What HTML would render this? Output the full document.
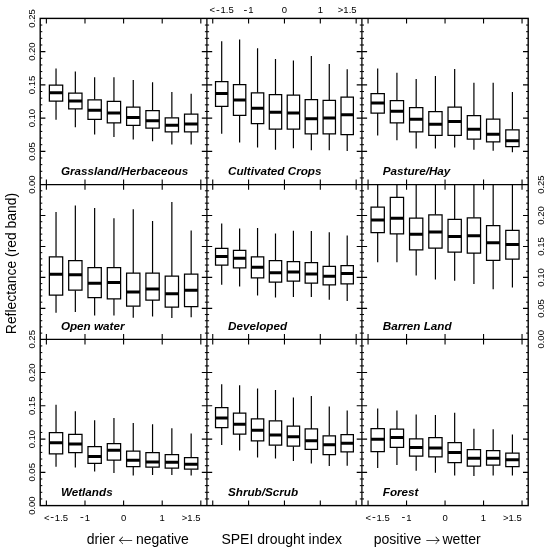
<!DOCTYPE html>
<html><head><meta charset="utf-8"><title>Reflectance vs SPEI drought index</title>
<style>html,body{margin:0;padding:0;background:#fff}body{width:549px;height:550px;overflow:hidden}</style>
</head><body>
<svg width="549" height="550" viewBox="0 0 549 550" style="display:block">
<rect width="549" height="550" fill="#fff"/>
<defs>
<clipPath id="c00"><rect x="40.2" y="18.4" width="166.8" height="166.2"/></clipPath>
<clipPath id="c01"><rect x="207.0" y="18.4" width="154.9" height="166.2"/></clipPath>
<clipPath id="c02"><rect x="361.9" y="18.4" width="166.3" height="166.2"/></clipPath>
<clipPath id="c10"><rect x="40.2" y="184.6" width="166.8" height="154.7"/></clipPath>
<clipPath id="c11"><rect x="207.0" y="184.6" width="154.9" height="154.7"/></clipPath>
<clipPath id="c12"><rect x="361.9" y="184.6" width="166.3" height="154.7"/></clipPath>
<clipPath id="c20"><rect x="40.2" y="339.3" width="166.8" height="166.3"/></clipPath>
<clipPath id="c21"><rect x="207.0" y="339.3" width="154.9" height="166.3"/></clipPath>
<clipPath id="c22"><rect x="361.9" y="339.3" width="166.3" height="166.3"/></clipPath>
</defs>
<g clip-path="url(#c00)" stroke="#000" fill="none">
<path d="M56.03 68.5V85.1M56.03 101.0V119.8M75.34 71.5V93.1M75.34 108.9V127.2M94.64 77.2V99.8M94.64 119.3V134.6M113.95 77.2V101.3M113.95 122.8V137.0M133.25 80.1V107.1M133.25 125.3V139.6M152.56 82.2V110.6M152.56 128.1V141.2M171.86 92.0V117.8M171.86 131.9V144.5M191.17 93.7V114.2M191.17 131.9V144.5" stroke-width="1.2"/>
<path d="M49.37 85.1H62.69V101.0H49.37ZM68.68 93.1H82.00V108.9H68.68ZM87.98 99.8H101.30V119.3H87.98ZM107.29 101.3H120.61V122.8H107.29ZM126.59 107.1H139.91V125.3H126.59ZM145.90 110.6H159.22V128.1H145.90ZM165.20 117.8H178.52V131.9H165.20ZM184.51 114.2H197.83V131.9H184.51Z" stroke-width="1.25" fill="#fff"/>
<path d="M49.37 92.8H62.69M68.68 101.0H82.00M87.98 110.2H101.30M107.29 113.0H120.61M126.59 117.5H139.91M145.90 120.7H159.22M165.20 125.3H178.52M184.51 124.0H197.83" stroke-width="3.0"/>
</g>
<g clip-path="url(#c01)" stroke="#000" fill="none">
<path d="M221.70 41.3V81.5M221.70 106.3V133.7M239.63 39.5V84.6M239.63 115.4V142.5M257.56 48.2V92.8M257.56 123.7V147.4M275.49 59.1V94.7M275.49 129.2V149.8M293.41 60.6V95.2M293.41 129.2V148.3M311.34 56.0V99.6M311.34 133.8V150.2M329.27 64.1V100.3M329.27 133.8V150.2M347.20 69.2V97.2M347.20 134.7V150.9" stroke-width="1.2"/>
<path d="M215.52 81.5H227.89V106.3H215.52ZM233.44 84.6H245.81V115.4H233.44ZM251.37 92.8H263.74V123.7H251.37ZM269.30 94.7H281.67V129.2H269.30ZM287.23 95.2H299.60V129.2H287.23ZM305.16 99.6H317.53V133.8H305.16ZM323.09 100.3H335.46V133.8H323.09ZM341.01 97.2H353.38V134.7H341.01Z" stroke-width="1.25" fill="#fff"/>
<path d="M215.52 93.4H227.89M233.44 100.1H245.81M251.37 108.3H263.74M269.30 112.3H281.67M287.23 112.9H299.60M305.16 118.7H317.53M323.09 118.1H335.46M341.01 114.7H353.38" stroke-width="3.0"/>
</g>
<g clip-path="url(#c02)" stroke="#000" fill="none">
<path d="M377.68 68.5V93.6M377.68 113.0V135.4M396.93 72.8V100.5M396.93 122.8V140.3M416.18 78.9V107.5M416.18 131.8V148.5M435.43 76.1V111.6M435.43 135.4V148.5M454.67 69.1V107.1M454.67 135.3V147.4M473.92 82.8V115.6M473.92 139.2V149.8M493.17 82.8V119.2M493.17 141.8V150.8M512.42 92.1V129.8M512.42 146.7V152.3" stroke-width="1.2"/>
<path d="M371.04 93.6H384.32V113.0H371.04ZM390.29 100.5H403.57V122.8H390.29ZM409.54 107.5H422.82V131.8H409.54ZM428.79 111.6H442.07V135.4H428.79ZM448.03 107.1H461.31V135.3H448.03ZM467.28 115.6H480.56V139.2H467.28ZM486.53 119.2H499.81V141.8H486.53ZM505.78 129.8H519.06V146.7H505.78Z" stroke-width="1.25" fill="#fff"/>
<path d="M371.04 103.0H384.32M390.29 111.3H403.57M409.54 119.3H422.82M428.79 124.3H442.07M448.03 121.4H461.31M467.28 129.3H480.56M486.53 134.3H499.81M505.78 140.8H519.06" stroke-width="3.0"/>
</g>
<g clip-path="url(#c10)" stroke="#000" fill="none">
<path d="M56.03 212.0V256.8M56.03 295.1V312.8M75.34 205.5V260.6M75.34 290.2V312.0M94.64 208.0V267.7M94.64 297.5V315.6M113.95 218.3V267.7M113.95 298.9V315.6M133.25 209.3V273.0M133.25 306.2V317.7M152.56 221.1V273.0M152.56 300.0V316.4M171.86 201.9V276.2M171.86 307.0V318.0M191.17 230.4V274.1M191.17 306.6V317.2" stroke-width="1.2"/>
<path d="M49.37 256.8H62.69V295.1H49.37ZM68.68 260.6H82.00V290.2H68.68ZM87.98 267.7H101.30V297.5H87.98ZM107.29 267.7H120.61V298.9H107.29ZM126.59 273.0H139.91V306.2H126.59ZM145.90 273.0H159.22V300.0H145.90ZM165.20 276.2H178.52V307.0H165.20ZM184.51 274.1H197.83V306.6H184.51Z" stroke-width="1.25" fill="#fff"/>
<path d="M49.37 274.3H62.69M68.68 274.7H82.00M87.98 283.3H101.30M107.29 282.5H120.61M126.59 292.0H139.91M145.90 289.0H159.22M165.20 293.8H178.52M184.51 290.2H197.83" stroke-width="3.0"/>
</g>
<g clip-path="url(#c11)" stroke="#000" fill="none">
<path d="M221.70 223.6V248.4M221.70 265.1V284.8M239.63 228.5V250.3M239.63 267.9V286.4M257.56 227.9V256.9M257.56 277.9V295.4M275.49 233.4V260.7M275.49 282.0V297.5M293.41 230.7V261.5M293.41 281.1V297.0M311.34 231.1V262.6M311.34 283.1V297.0M329.27 232.3V266.4M329.27 284.8V299.8M347.20 235.6V265.6M347.20 283.9V301.1" stroke-width="1.2"/>
<path d="M215.52 248.4H227.89V265.1H215.52ZM233.44 250.3H245.81V267.9H233.44ZM251.37 256.9H263.74V277.9H251.37ZM269.30 260.7H281.67V282.0H269.30ZM287.23 261.5H299.60V281.1H287.23ZM305.16 262.6H317.53V283.1H305.16ZM323.09 266.4H335.46V284.8H323.09ZM341.01 265.6H353.38V283.9H341.01Z" stroke-width="1.25" fill="#fff"/>
<path d="M215.52 256.4H227.89M233.44 258.2H245.81M251.37 267.2H263.74M269.30 272.8H281.67M287.23 272.1H299.60M305.16 274.1H317.53M323.09 276.2H335.46M341.01 273.6H353.38" stroke-width="3.0"/>
</g>
<g clip-path="url(#c12)" stroke="#000" fill="none">
<path d="M377.68 180.0V207.1M377.68 232.5V262.2M396.93 180.0V197.3M396.93 233.9V262.2M416.18 180.0V218.1M416.18 249.8V275.4M435.43 180.0V214.8M435.43 248.1V279.5M454.67 180.0V219.4M454.67 252.0V280.8M473.92 180.0V217.8M473.92 253.0V284.1M493.17 180.0V225.5M493.17 260.4V289.3M512.42 180.0V230.4M512.42 259.1V287.4" stroke-width="1.2"/>
<path d="M371.04 207.1H384.32V232.5H371.04ZM390.29 197.3H403.57V233.9H390.29ZM409.54 218.1H422.82V249.8H409.54ZM428.79 214.8H442.07V248.1H428.79ZM448.03 219.4H461.31V252.0H448.03ZM467.28 217.8H480.56V253.0H467.28ZM486.53 225.5H499.81V260.4H486.53ZM505.78 230.4H519.06V259.1H505.78Z" stroke-width="1.25" fill="#fff"/>
<path d="M371.04 219.9H384.32M390.29 218.3H403.57M409.54 234.2H422.82M428.79 232.0H442.07M448.03 236.4H461.31M467.28 235.8H480.56M486.53 242.7H499.81M505.78 244.5H519.06" stroke-width="3.0"/>
</g>
<g clip-path="url(#c20)" stroke="#000" fill="none">
<path d="M56.03 404.8V432.6M56.03 453.9V466.7M75.34 411.3V434.3M75.34 452.6V467.4M94.64 420.3V446.6M94.64 463.3V471.5M113.95 417.9V443.6M113.95 460.0V473.1M133.25 423.0V451.1M133.25 466.5V475.4M152.56 424.3V452.5M152.56 467.2V475.1M171.86 428.2V454.6M171.86 468.0V475.1M191.17 433.6V457.7M191.17 469.2V475.4" stroke-width="1.2"/>
<path d="M49.37 432.6H62.69V453.9H49.37ZM68.68 434.3H82.00V452.6H68.68ZM87.98 446.6H101.30V463.3H87.98ZM107.29 443.6H120.61V460.0H107.29ZM126.59 451.1H139.91V466.5H126.59ZM145.90 452.5H159.22V467.2H145.90ZM165.20 454.6H178.52V468.0H165.20ZM184.51 457.7H197.83V469.2H184.51Z" stroke-width="1.25" fill="#fff"/>
<path d="M49.37 442.8H62.69M68.68 444.1H82.00M87.98 456.4H101.30M107.29 450.2H120.61M126.59 460.3H139.91M145.90 462.0H159.22M165.20 462.3H178.52M184.51 464.3H197.83" stroke-width="3.0"/>
</g>
<g clip-path="url(#c21)" stroke="#000" fill="none">
<path d="M221.70 384.3V407.5M221.70 427.5V445.0M239.63 385.2V413.2M239.63 434.0V450.4M257.56 388.6V418.9M257.56 440.9V457.5M275.49 390.1V420.8M275.49 445.2V458.6M293.41 397.5V426.0M293.41 446.2V461.1M311.34 396.1V428.9M311.34 449.4V463.4M329.27 406.6V435.8M329.27 454.7V466.1M347.20 410.4V434.5M347.20 451.9V465.8" stroke-width="1.2"/>
<path d="M215.52 407.5H227.89V427.5H215.52ZM233.44 413.2H245.81V434.0H233.44ZM251.37 418.9H263.74V440.9H251.37ZM269.30 420.8H281.67V445.2H269.30ZM287.23 426.0H299.60V446.2H287.23ZM305.16 428.9H317.53V449.4H305.16ZM323.09 435.8H335.46V454.7H323.09ZM341.01 434.5H353.38V451.9H341.01Z" stroke-width="1.25" fill="#fff"/>
<path d="M215.52 418.0H227.89M233.44 424.2H245.81M251.37 430.2H263.74M269.30 435.1H281.67M287.23 436.7H299.60M305.16 440.7H317.53M323.09 444.8H335.46M341.01 443.2H353.38" stroke-width="3.0"/>
</g>
<g clip-path="url(#c22)" stroke="#000" fill="none">
<path d="M377.68 408.4V428.5M377.68 451.5V467.9M396.93 410.5V429.0M396.93 447.4V464.9M416.18 414.6V438.9M416.18 456.1V470.8M435.43 414.9V437.5M435.43 456.9V472.8M454.67 412.8V442.7M454.67 462.7V475.4M473.92 428.7V449.5M473.92 466.1V475.9M493.17 429.2V450.5M493.17 465.2V475.4M512.42 434.4V453.0M512.42 466.7V475.4" stroke-width="1.2"/>
<path d="M371.04 428.5H384.32V451.5H371.04ZM390.29 429.0H403.57V447.4H390.29ZM409.54 438.9H422.82V456.1H409.54ZM428.79 437.5H442.07V456.9H428.79ZM448.03 442.7H461.31V462.7H448.03ZM467.28 449.5H480.56V466.1H467.28ZM486.53 450.5H499.81V465.2H486.53ZM505.78 453.0H519.06V466.7H505.78Z" stroke-width="1.25" fill="#fff"/>
<path d="M371.04 439.2H384.32M390.29 437.5H403.57M409.54 447.4H422.82M428.79 447.9H442.07M448.03 452.4H461.31M467.28 458.2H480.56M486.53 458.2H499.81M505.78 459.8H519.06" stroke-width="3.0"/>
</g>
<path d="M46.38 18.4v5.2M46.38 184.6v-5.2M84.99 18.4v5.2M84.99 184.6v-5.2M123.60 18.4v5.2M123.60 184.6v-5.2M162.21 18.4v5.2M162.21 184.6v-5.2M200.82 18.4v5.2M200.82 184.6v-5.2M40.2 151.36h5.2M207.0 151.36h-5.2M40.2 118.12h5.2M207.0 118.12h-5.2M40.2 84.88h5.2M207.0 84.88h-5.2M40.2 51.64h5.2M207.0 51.64h-5.2M212.74 18.4v5.2M212.74 184.6v-5.2M248.59 18.4v5.2M248.59 184.6v-5.2M284.45 18.4v5.2M284.45 184.6v-5.2M320.31 18.4v5.2M320.31 184.6v-5.2M356.16 18.4v5.2M356.16 184.6v-5.2M207.0 151.36h5.2M361.9 151.36h-5.2M207.0 118.12h5.2M361.9 118.12h-5.2M207.0 84.88h5.2M361.9 84.88h-5.2M207.0 51.64h5.2M361.9 51.64h-5.2M368.06 18.4v5.2M368.06 184.6v-5.2M406.55 18.4v5.2M406.55 184.6v-5.2M445.05 18.4v5.2M445.05 184.6v-5.2M483.55 18.4v5.2M483.55 184.6v-5.2M522.04 18.4v5.2M522.04 184.6v-5.2M361.9 151.36h5.2M528.2 151.36h-5.2M361.9 118.12h5.2M528.2 118.12h-5.2M361.9 84.88h5.2M528.2 84.88h-5.2M361.9 51.64h5.2M528.2 51.64h-5.2M46.38 184.6v5.2M46.38 339.3v-5.2M84.99 184.6v5.2M84.99 339.3v-5.2M123.60 184.6v5.2M123.60 339.3v-5.2M162.21 184.6v5.2M162.21 339.3v-5.2M200.82 184.6v5.2M200.82 339.3v-5.2M40.2 308.36h5.2M207.0 308.36h-5.2M40.2 277.42h5.2M207.0 277.42h-5.2M40.2 246.48h5.2M207.0 246.48h-5.2M40.2 215.54h5.2M207.0 215.54h-5.2M212.74 184.6v5.2M212.74 339.3v-5.2M248.59 184.6v5.2M248.59 339.3v-5.2M284.45 184.6v5.2M284.45 339.3v-5.2M320.31 184.6v5.2M320.31 339.3v-5.2M356.16 184.6v5.2M356.16 339.3v-5.2M207.0 308.36h5.2M361.9 308.36h-5.2M207.0 277.42h5.2M361.9 277.42h-5.2M207.0 246.48h5.2M361.9 246.48h-5.2M207.0 215.54h5.2M361.9 215.54h-5.2M368.06 184.6v5.2M368.06 339.3v-5.2M406.55 184.6v5.2M406.55 339.3v-5.2M445.05 184.6v5.2M445.05 339.3v-5.2M483.55 184.6v5.2M483.55 339.3v-5.2M522.04 184.6v5.2M522.04 339.3v-5.2M361.9 308.36h5.2M528.2 308.36h-5.2M361.9 277.42h5.2M528.2 277.42h-5.2M361.9 246.48h5.2M528.2 246.48h-5.2M361.9 215.54h5.2M528.2 215.54h-5.2M46.38 339.3v5.2M46.38 505.6v-5.2M84.99 339.3v5.2M84.99 505.6v-5.2M123.60 339.3v5.2M123.60 505.6v-5.2M162.21 339.3v5.2M162.21 505.6v-5.2M200.82 339.3v5.2M200.82 505.6v-5.2M40.2 472.34h5.2M207.0 472.34h-5.2M40.2 439.08h5.2M207.0 439.08h-5.2M40.2 405.82h5.2M207.0 405.82h-5.2M40.2 372.56h5.2M207.0 372.56h-5.2M212.74 339.3v5.2M212.74 505.6v-5.2M248.59 339.3v5.2M248.59 505.6v-5.2M284.45 339.3v5.2M284.45 505.6v-5.2M320.31 339.3v5.2M320.31 505.6v-5.2M356.16 339.3v5.2M356.16 505.6v-5.2M207.0 472.34h5.2M361.9 472.34h-5.2M207.0 439.08h5.2M361.9 439.08h-5.2M207.0 405.82h5.2M361.9 405.82h-5.2M207.0 372.56h5.2M361.9 372.56h-5.2M368.06 339.3v5.2M368.06 505.6v-5.2M406.55 339.3v5.2M406.55 505.6v-5.2M445.05 339.3v5.2M445.05 505.6v-5.2M483.55 339.3v5.2M483.55 505.6v-5.2M522.04 339.3v5.2M522.04 505.6v-5.2M361.9 472.34h5.2M528.2 472.34h-5.2M361.9 439.08h5.2M528.2 439.08h-5.2M361.9 405.82h5.2M528.2 405.82h-5.2M361.9 372.56h5.2M528.2 372.56h-5.2" stroke="#000" stroke-width="1.1" fill="none"/>
<path d="M40.2 177.95h2.1M207.0 177.95h-2.1M40.2 171.30h2.1M207.0 171.30h-2.1M40.2 164.66h2.1M207.0 164.66h-2.1M40.2 158.01h2.1M207.0 158.01h-2.1M40.2 144.71h2.1M207.0 144.71h-2.1M40.2 138.06h2.1M207.0 138.06h-2.1M40.2 131.42h2.1M207.0 131.42h-2.1M40.2 124.77h2.1M207.0 124.77h-2.1M40.2 111.47h2.1M207.0 111.47h-2.1M40.2 104.82h2.1M207.0 104.82h-2.1M40.2 98.18h2.1M207.0 98.18h-2.1M40.2 91.53h2.1M207.0 91.53h-2.1M40.2 78.23h2.1M207.0 78.23h-2.1M40.2 71.58h2.1M207.0 71.58h-2.1M40.2 64.94h2.1M207.0 64.94h-2.1M40.2 58.29h2.1M207.0 58.29h-2.1M40.2 44.99h2.1M207.0 44.99h-2.1M40.2 38.34h2.1M207.0 38.34h-2.1M40.2 31.70h2.1M207.0 31.70h-2.1M40.2 25.05h2.1M207.0 25.05h-2.1M207.0 177.95h2.1M361.9 177.95h-2.1M207.0 171.30h2.1M361.9 171.30h-2.1M207.0 164.66h2.1M361.9 164.66h-2.1M207.0 158.01h2.1M361.9 158.01h-2.1M207.0 144.71h2.1M361.9 144.71h-2.1M207.0 138.06h2.1M361.9 138.06h-2.1M207.0 131.42h2.1M361.9 131.42h-2.1M207.0 124.77h2.1M361.9 124.77h-2.1M207.0 111.47h2.1M361.9 111.47h-2.1M207.0 104.82h2.1M361.9 104.82h-2.1M207.0 98.18h2.1M361.9 98.18h-2.1M207.0 91.53h2.1M361.9 91.53h-2.1M207.0 78.23h2.1M361.9 78.23h-2.1M207.0 71.58h2.1M361.9 71.58h-2.1M207.0 64.94h2.1M361.9 64.94h-2.1M207.0 58.29h2.1M361.9 58.29h-2.1M207.0 44.99h2.1M361.9 44.99h-2.1M207.0 38.34h2.1M361.9 38.34h-2.1M207.0 31.70h2.1M361.9 31.70h-2.1M207.0 25.05h2.1M361.9 25.05h-2.1M361.9 177.95h2.1M528.2 177.95h-2.1M361.9 171.30h2.1M528.2 171.30h-2.1M361.9 164.66h2.1M528.2 164.66h-2.1M361.9 158.01h2.1M528.2 158.01h-2.1M361.9 144.71h2.1M528.2 144.71h-2.1M361.9 138.06h2.1M528.2 138.06h-2.1M361.9 131.42h2.1M528.2 131.42h-2.1M361.9 124.77h2.1M528.2 124.77h-2.1M361.9 111.47h2.1M528.2 111.47h-2.1M361.9 104.82h2.1M528.2 104.82h-2.1M361.9 98.18h2.1M528.2 98.18h-2.1M361.9 91.53h2.1M528.2 91.53h-2.1M361.9 78.23h2.1M528.2 78.23h-2.1M361.9 71.58h2.1M528.2 71.58h-2.1M361.9 64.94h2.1M528.2 64.94h-2.1M361.9 58.29h2.1M528.2 58.29h-2.1M361.9 44.99h2.1M528.2 44.99h-2.1M361.9 38.34h2.1M528.2 38.34h-2.1M361.9 31.70h2.1M528.2 31.70h-2.1M361.9 25.05h2.1M528.2 25.05h-2.1M40.2 333.11h2.1M207.0 333.11h-2.1M40.2 326.92h2.1M207.0 326.92h-2.1M40.2 320.74h2.1M207.0 320.74h-2.1M40.2 314.55h2.1M207.0 314.55h-2.1M40.2 302.17h2.1M207.0 302.17h-2.1M40.2 295.98h2.1M207.0 295.98h-2.1M40.2 289.80h2.1M207.0 289.80h-2.1M40.2 283.61h2.1M207.0 283.61h-2.1M40.2 271.23h2.1M207.0 271.23h-2.1M40.2 265.04h2.1M207.0 265.04h-2.1M40.2 258.86h2.1M207.0 258.86h-2.1M40.2 252.67h2.1M207.0 252.67h-2.1M40.2 240.29h2.1M207.0 240.29h-2.1M40.2 234.10h2.1M207.0 234.10h-2.1M40.2 227.92h2.1M207.0 227.92h-2.1M40.2 221.73h2.1M207.0 221.73h-2.1M40.2 209.35h2.1M207.0 209.35h-2.1M40.2 203.16h2.1M207.0 203.16h-2.1M40.2 196.98h2.1M207.0 196.98h-2.1M40.2 190.79h2.1M207.0 190.79h-2.1M207.0 333.11h2.1M361.9 333.11h-2.1M207.0 326.92h2.1M361.9 326.92h-2.1M207.0 320.74h2.1M361.9 320.74h-2.1M207.0 314.55h2.1M361.9 314.55h-2.1M207.0 302.17h2.1M361.9 302.17h-2.1M207.0 295.98h2.1M361.9 295.98h-2.1M207.0 289.80h2.1M361.9 289.80h-2.1M207.0 283.61h2.1M361.9 283.61h-2.1M207.0 271.23h2.1M361.9 271.23h-2.1M207.0 265.04h2.1M361.9 265.04h-2.1M207.0 258.86h2.1M361.9 258.86h-2.1M207.0 252.67h2.1M361.9 252.67h-2.1M207.0 240.29h2.1M361.9 240.29h-2.1M207.0 234.10h2.1M361.9 234.10h-2.1M207.0 227.92h2.1M361.9 227.92h-2.1M207.0 221.73h2.1M361.9 221.73h-2.1M207.0 209.35h2.1M361.9 209.35h-2.1M207.0 203.16h2.1M361.9 203.16h-2.1M207.0 196.98h2.1M361.9 196.98h-2.1M207.0 190.79h2.1M361.9 190.79h-2.1M361.9 333.11h2.1M528.2 333.11h-2.1M361.9 326.92h2.1M528.2 326.92h-2.1M361.9 320.74h2.1M528.2 320.74h-2.1M361.9 314.55h2.1M528.2 314.55h-2.1M361.9 302.17h2.1M528.2 302.17h-2.1M361.9 295.98h2.1M528.2 295.98h-2.1M361.9 289.80h2.1M528.2 289.80h-2.1M361.9 283.61h2.1M528.2 283.61h-2.1M361.9 271.23h2.1M528.2 271.23h-2.1M361.9 265.04h2.1M528.2 265.04h-2.1M361.9 258.86h2.1M528.2 258.86h-2.1M361.9 252.67h2.1M528.2 252.67h-2.1M361.9 240.29h2.1M528.2 240.29h-2.1M361.9 234.10h2.1M528.2 234.10h-2.1M361.9 227.92h2.1M528.2 227.92h-2.1M361.9 221.73h2.1M528.2 221.73h-2.1M361.9 209.35h2.1M528.2 209.35h-2.1M361.9 203.16h2.1M528.2 203.16h-2.1M361.9 196.98h2.1M528.2 196.98h-2.1M361.9 190.79h2.1M528.2 190.79h-2.1M40.2 498.95h2.1M207.0 498.95h-2.1M40.2 492.30h2.1M207.0 492.30h-2.1M40.2 485.64h2.1M207.0 485.64h-2.1M40.2 478.99h2.1M207.0 478.99h-2.1M40.2 465.69h2.1M207.0 465.69h-2.1M40.2 459.04h2.1M207.0 459.04h-2.1M40.2 452.38h2.1M207.0 452.38h-2.1M40.2 445.73h2.1M207.0 445.73h-2.1M40.2 432.43h2.1M207.0 432.43h-2.1M40.2 425.78h2.1M207.0 425.78h-2.1M40.2 419.12h2.1M207.0 419.12h-2.1M40.2 412.47h2.1M207.0 412.47h-2.1M40.2 399.17h2.1M207.0 399.17h-2.1M40.2 392.52h2.1M207.0 392.52h-2.1M40.2 385.86h2.1M207.0 385.86h-2.1M40.2 379.21h2.1M207.0 379.21h-2.1M40.2 365.91h2.1M207.0 365.91h-2.1M40.2 359.26h2.1M207.0 359.26h-2.1M40.2 352.60h2.1M207.0 352.60h-2.1M40.2 345.95h2.1M207.0 345.95h-2.1M207.0 498.95h2.1M361.9 498.95h-2.1M207.0 492.30h2.1M361.9 492.30h-2.1M207.0 485.64h2.1M361.9 485.64h-2.1M207.0 478.99h2.1M361.9 478.99h-2.1M207.0 465.69h2.1M361.9 465.69h-2.1M207.0 459.04h2.1M361.9 459.04h-2.1M207.0 452.38h2.1M361.9 452.38h-2.1M207.0 445.73h2.1M361.9 445.73h-2.1M207.0 432.43h2.1M361.9 432.43h-2.1M207.0 425.78h2.1M361.9 425.78h-2.1M207.0 419.12h2.1M361.9 419.12h-2.1M207.0 412.47h2.1M361.9 412.47h-2.1M207.0 399.17h2.1M361.9 399.17h-2.1M207.0 392.52h2.1M361.9 392.52h-2.1M207.0 385.86h2.1M361.9 385.86h-2.1M207.0 379.21h2.1M361.9 379.21h-2.1M207.0 365.91h2.1M361.9 365.91h-2.1M207.0 359.26h2.1M361.9 359.26h-2.1M207.0 352.60h2.1M361.9 352.60h-2.1M207.0 345.95h2.1M361.9 345.95h-2.1M361.9 498.95h2.1M528.2 498.95h-2.1M361.9 492.30h2.1M528.2 492.30h-2.1M361.9 485.64h2.1M528.2 485.64h-2.1M361.9 478.99h2.1M528.2 478.99h-2.1M361.9 465.69h2.1M528.2 465.69h-2.1M361.9 459.04h2.1M528.2 459.04h-2.1M361.9 452.38h2.1M528.2 452.38h-2.1M361.9 445.73h2.1M528.2 445.73h-2.1M361.9 432.43h2.1M528.2 432.43h-2.1M361.9 425.78h2.1M528.2 425.78h-2.1M361.9 419.12h2.1M528.2 419.12h-2.1M361.9 412.47h2.1M528.2 412.47h-2.1M361.9 399.17h2.1M528.2 399.17h-2.1M361.9 392.52h2.1M528.2 392.52h-2.1M361.9 385.86h2.1M528.2 385.86h-2.1M361.9 379.21h2.1M528.2 379.21h-2.1M361.9 365.91h2.1M528.2 365.91h-2.1M361.9 359.26h2.1M528.2 359.26h-2.1M361.9 352.60h2.1M528.2 352.60h-2.1M361.9 345.95h2.1M528.2 345.95h-2.1" stroke="#000" stroke-width="1.0" fill="none"/>
<rect x="40.2" y="18.4" width="488.0" height="487.2" stroke="#000" stroke-width="1.4" fill="none"/>
<path d="M206.9 18.4V505.6M361.9 18.4V505.6" stroke="#000" stroke-width="1.25" fill="none"/>
<path d="M40.2 184.6H528.2M40.2 339.3H528.2" stroke="#000" stroke-width="1.15" fill="none"/>
<g font-family="'Liberation Sans', Arial, sans-serif" fill="#000">
<g font-size="11.7" font-weight="bold" font-style="italic">
<text x="60.9" y="175.4">Grassland/Herbaceous</text>
<text x="228.0" y="175.4">Cultivated Crops</text>
<text x="382.8" y="175.4">Pasture/Hay</text>
<text x="60.9" y="330.4">Open water</text>
<text x="228.0" y="330.4">Developed</text>
<text x="382.8" y="330.4">Barren Land</text>
<text x="60.9" y="496.4">Wetlands</text>
<text x="228.0" y="496.4">Shrub/Scrub</text>
<text x="382.8" y="496.4">Forest</text>
</g>
<g font-size="9.5" text-anchor="middle">
<text x="56.0" y="520.8">&lt;<tspan font-size="11.5" dx="0.77" dy="-0.5">-</tspan><tspan dx="0.77" dy="0.5">1.5</tspan></text>
<text x="84.2" y="520.8"><tspan font-size="11.5" dx="0.77" dy="-0.5">-</tspan><tspan dx="0.77" dy="0.5">1</tspan></text>
<text x="123.6" y="520.8">0</text>
<text x="162.2" y="520.8">1</text>
<text x="191.2" y="520.8">&gt;1.5</text>
<text x="221.7" y="13.4">&lt;<tspan font-size="11.5" dx="0.77" dy="-0.5">-</tspan><tspan dx="0.77" dy="0.5">1.5</tspan></text>
<text x="247.8" y="13.4"><tspan font-size="11.5" dx="0.77" dy="-0.5">-</tspan><tspan dx="0.77" dy="0.5">1</tspan></text>
<text x="284.4" y="13.4">0</text>
<text x="320.3" y="13.4">1</text>
<text x="347.2" y="13.4">&gt;1.5</text>
<text x="377.7" y="520.8">&lt;<tspan font-size="11.5" dx="0.77" dy="-0.5">-</tspan><tspan dx="0.77" dy="0.5">1.5</tspan></text>
<text x="405.8" y="520.8"><tspan font-size="11.5" dx="0.77" dy="-0.5">-</tspan><tspan dx="0.77" dy="0.5">1</tspan></text>
<text x="445.1" y="520.8">0</text>
<text x="483.5" y="520.8">1</text>
<text x="512.4" y="520.8">&gt;1.5</text>
</g>
<g font-size="9.5" text-anchor="middle">
<text transform="translate(35.0 184.6) rotate(-90)">0.00</text>
<text transform="translate(35.0 151.4) rotate(-90)">0.05</text>
<text transform="translate(35.0 118.1) rotate(-90)">0.10</text>
<text transform="translate(35.0 84.9) rotate(-90)">0.15</text>
<text transform="translate(35.0 51.6) rotate(-90)">0.20</text>
<text transform="translate(35.0 18.4) rotate(-90)">0.25</text>
<text transform="translate(544.3 339.3) rotate(-90)">0.00</text>
<text transform="translate(544.3 308.4) rotate(-90)">0.05</text>
<text transform="translate(544.3 277.4) rotate(-90)">0.10</text>
<text transform="translate(544.3 246.5) rotate(-90)">0.15</text>
<text transform="translate(544.3 215.5) rotate(-90)">0.20</text>
<text transform="translate(544.3 184.6) rotate(-90)">0.25</text>
<text transform="translate(35.0 505.6) rotate(-90)">0.00</text>
<text transform="translate(35.0 472.3) rotate(-90)">0.05</text>
<text transform="translate(35.0 439.1) rotate(-90)">0.10</text>
<text transform="translate(35.0 405.8) rotate(-90)">0.15</text>
<text transform="translate(35.0 372.6) rotate(-90)">0.20</text>
<text transform="translate(35.0 339.3) rotate(-90)">0.25</text>
</g>
<g font-size="14">
<text transform="translate(16.4 263.5) rotate(-90)" text-anchor="middle" font-size="13.9">Reflectance (red band)</text>
<text x="86.8" y="544.3">drier</text><text x="125.5" y="546.0" text-anchor="middle" font-family="'Noto Serif CJK SC', serif" font-size="14.5">←</text><text x="135.9" y="544.3">negative</text>
<text x="221.4" y="544.3">SPEI drought index</text>
<text x="373.8" y="544.3">positive</text><text x="432.9" y="546.0" text-anchor="middle" font-family="'Noto Serif CJK SC', serif" font-size="14.5">→</text><text x="442.5" y="544.3">wetter</text>
</g>
</g>
</svg>
</body></html>
